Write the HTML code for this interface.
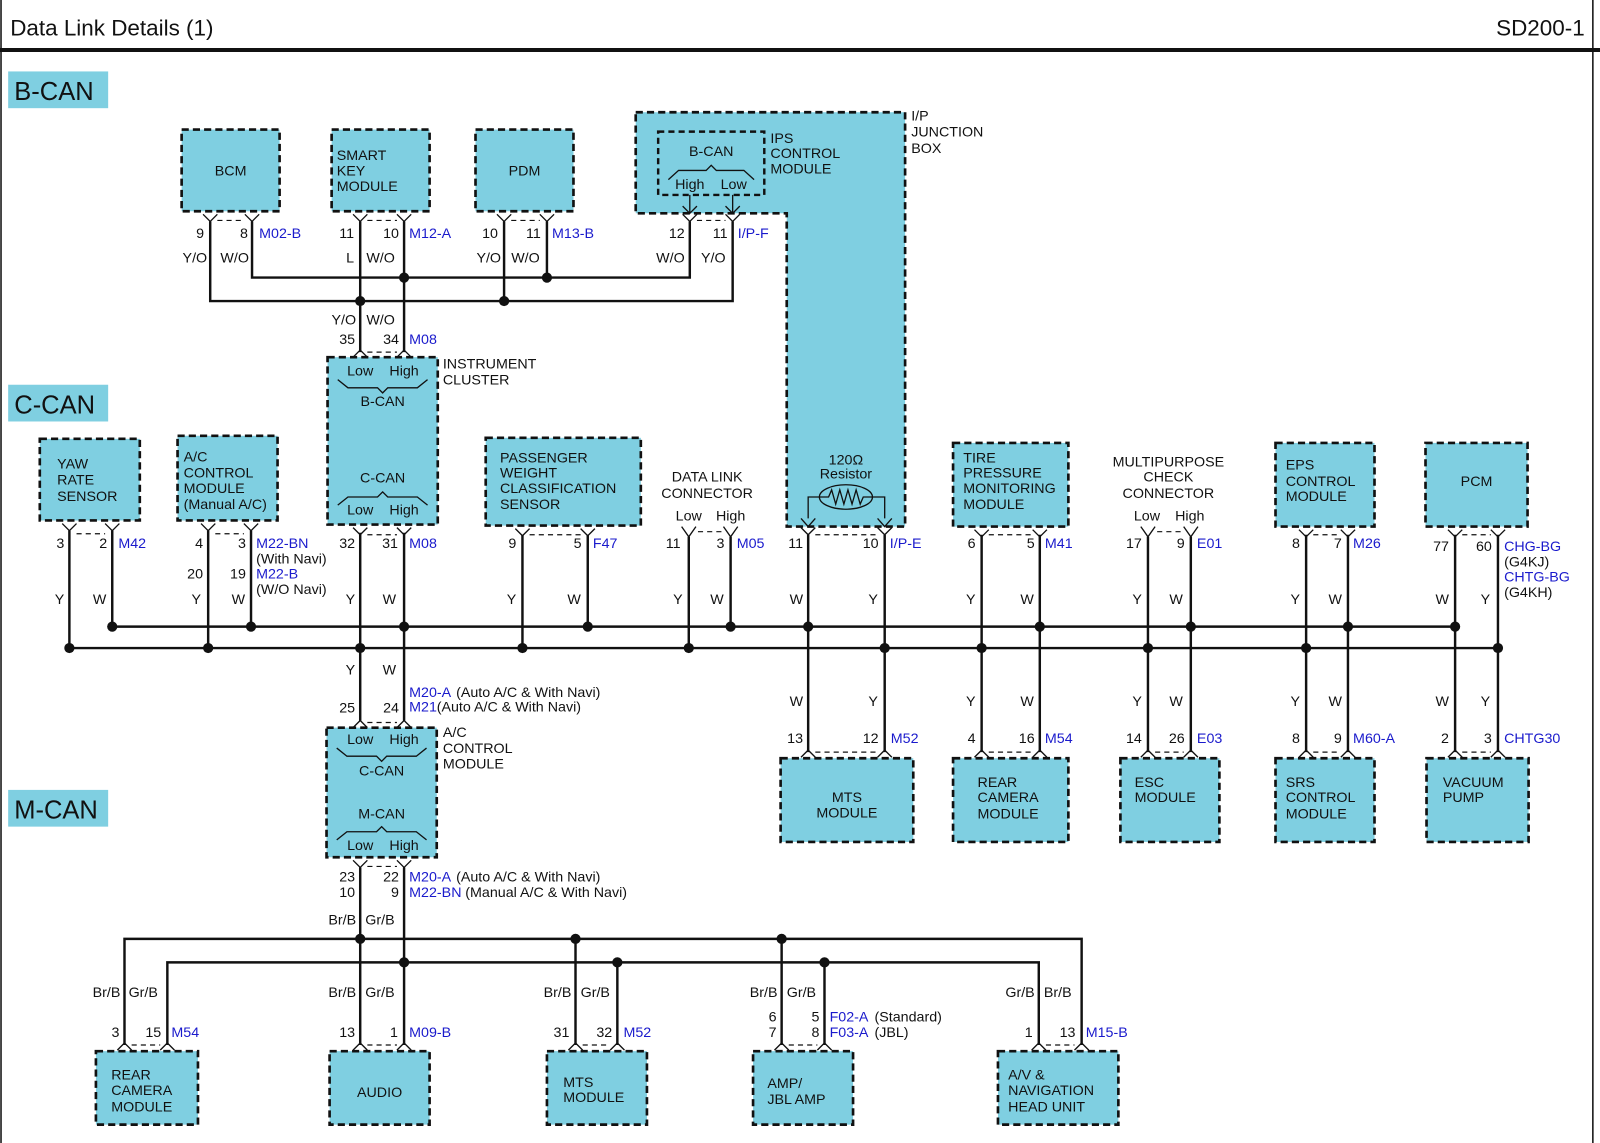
<!DOCTYPE html>
<html><head><meta charset="utf-8"><style>
html,body{margin:0;padding:0;background:#fff}
svg{display:block}
text{font-family:"Liberation Sans",Arial,sans-serif;font-size:14px;fill:#111}
.b{fill:#1a1acc}
.bx{fill:#7fcfe1;stroke:#111;stroke-width:2.6;stroke-dasharray:7 4}
.w{stroke:#111;stroke-width:2.4;fill:none}
.t{stroke:#111;stroke-width:1.3;fill:none}
.d{stroke:#111;stroke-width:1.2;stroke-dasharray:5 4;fill:none}
.c{text-anchor:middle}
.e{text-anchor:end}
.tag{fill:#7fcfe1}
</style></head><body>
<svg width="1600" height="1143" viewBox="0 0 1568 1120" preserveAspectRatio="none">
<defs>
<path id="up" class="t" d="M-7 -1 L0 -8 L7 -1"/>
<path id="dn" class="t" d="M-7 1 L0 8 L7 1"/>
</defs>
<text x="10" y="35" style="font-size:22px">Data Link Details (1)</text>
<text x="1553" y="35" class="e" style="font-size:22px">SD200-1</text>
<line x1="0" y1="49" x2="1568" y2="49" stroke="#111" stroke-width="4"/>
<line x1="1561" y1="0" x2="1561" y2="1120" stroke="#111" stroke-width="1.5"/>
<line x1="1" y1="0" x2="1" y2="1120" stroke="#111" stroke-width="1.5"/>
<rect x="8" y="70" width="98" height="36" class="tag"/><text x="14" y="98" style="font-size:25px">B-CAN</text>
<rect x="8" y="377" width="98" height="36" class="tag"/><text x="14" y="405" style="font-size:25px">C-CAN</text>
<rect x="8" y="774" width="98" height="36" class="tag"/><text x="14" y="802" style="font-size:25px">M-CAN</text>

<rect x="178" y="127" width="96" height="80" class="bx"/><text x="226" y="172" class="c">BCM</text>
<rect x="325" y="127" width="96" height="80" class="bx"/><text x="330" y="157">SMART</text><text x="330" y="172">KEY</text><text x="330" y="187">MODULE</text>
<rect x="466" y="127" width="96" height="80" class="bx"/><text x="514" y="172" class="c">PDM</text>
<path d="M623 110 H887 V516 H771 V209 H623 Z" class="bx"/>
<rect x="645" y="129" width="104" height="62" class="d" style="stroke-width:2.4;stroke-dasharray:6 4"/>
<text x="697" y="153" class="c">B-CAN</text>
<path class="t" d="M655 176 L665 167 H692 L697 162 L702 167 H729 L739 176"/>
<text x="676" y="185" class="c">High</text><text x="719" y="185" class="c">Low</text>
<text x="755" y="140">IPS</text><text x="755" y="155">CONTROL</text><text x="755" y="170">MODULE</text>
<text x="893" y="118">I/P</text><text x="893" y="134">JUNCTION</text><text x="893" y="150">BOX</text>
<path class="t" d="M669 202 L676 209 L683 202 M676 191 V209 M711 202 L718 209 L725 202 M718 191 V209"/>

<path class="w" d="M206 217 V295 H718 V217 M247 217 V272 H676 V217 M353 217 V345 M396 217 V345 M494 217 V295 M536 217 V272"/>
<g><use href="#dn" x="206" y="209"/><use href="#dn" x="247" y="209"/><use href="#dn" x="353" y="209"/><use href="#dn" x="396" y="209"/><use href="#dn" x="494" y="209"/><use href="#dn" x="536" y="209"/><use href="#dn" x="676" y="209"/><use href="#dn" x="718" y="209"/></g>
<path class="d" d="M213 216 H240 M360 216 H389 M501 216 H529 M683 216 H711"/>
<g fill="#111"><circle cx="353" cy="295" r="5"/><circle cx="396" cy="272" r="5"/><circle cx="494" cy="295" r="5"/><circle cx="536" cy="272" r="5"/></g>
<text x="200" y="233" class="e">9</text><text x="243" y="233" class="e">8</text><text x="254" y="233" class="b">M02-B</text>
<text x="203" y="257" class="e">Y/O</text><text x="216" y="257">W/O</text>
<text x="347" y="233" class="e">11</text><text x="391" y="233" class="e">10</text><text x="401" y="233" class="b">M12-A</text>
<text x="347" y="257" class="e">L</text><text x="359" y="257">W/O</text>
<text x="488" y="233" class="e">10</text><text x="530" y="233" class="e">11</text><text x="541" y="233" class="b">M13-B</text>
<text x="491" y="257" class="e">Y/O</text><text x="501" y="257">W/O</text>
<text x="671" y="233" class="e">12</text><text x="713" y="233" class="e">11</text><text x="723" y="233" class="b">I/P-F</text>
<text x="671" y="257" class="e">W/O</text><text x="687" y="257">Y/O</text>
<text x="349" y="318" class="e">Y/O</text><text x="359" y="318">W/O</text>
<text x="348" y="337" class="e">35</text><text x="391" y="337" class="e">34</text><text x="401" y="337" class="b">M08</text>
<use href="#up" x="353" y="351"/><use href="#up" x="396" y="351"/><path class="d" d="M360 345 H389"/>

<rect x="321" y="350" width="108" height="164" class="bx"/>
<text x="353" y="368" class="c">Low</text><text x="396" y="368" class="c">High</text>
<path class="t" d="M331 372 L341 380 H370 L375 385 L380 380 H409 L419 372"/>
<text x="375" y="398" class="c">B-CAN</text>
<text x="375" y="473" class="c">C-CAN</text>
<path class="t" d="M331 495 L341 487 H370 L375 482 L380 487 H409 L419 495"/>
<text x="353" y="504" class="c">Low</text><text x="396" y="504" class="c">High</text>
<text x="434" y="361">INSTRUMENT</text><text x="434" y="377">CLUSTER</text>

<rect x="39" y="430" width="98" height="80" class="bx"/><text x="56" y="459">YAW</text><text x="56" y="475">RATE</text><text x="56" y="491">SENSOR</text>
<rect x="174" y="427" width="98" height="83" class="bx"/><text x="180" y="452">A/C</text><text x="180" y="468">CONTROL</text><text x="180" y="483">MODULE</text><text x="180" y="499">(Manual A/C)</text>
<rect x="476" y="429" width="152" height="86" class="bx"/><text x="490" y="453">PASSENGER</text><text x="490" y="468">WEIGHT</text><text x="490" y="483">CLASSIFICATION</text><text x="490" y="499">SENSOR</text>
<text x="693" y="472" class="c">DATA LINK</text><text x="693" y="488" class="c">CONNECTOR</text>
<text x="675" y="510" class="c">Low</text><text x="716" y="510" class="c">High</text>
<text x="829" y="455" class="c">120Ω</text><text x="829" y="469" class="c">Resistor</text>
<ellipse cx="829" cy="487" rx="26" ry="12" class="t"/>
<path class="t" d="M792 508 V487 H812 L815 480 L819 494 L823 480 L827 494 L831 480 L835 494 L839 480 L843 494 L846 487 H867 V508 M785 508 L792 516 L799 508 M860 508 L867 516 L874 508"/>
<rect x="934" y="434" width="113" height="82" class="bx"/><text x="944" y="453">TIRE</text><text x="944" y="468">PRESSURE</text><text x="944" y="483">MONITORING</text><text x="944" y="499">MODULE</text>
<text x="1145" y="457" class="c">MULTIPURPOSE</text><text x="1145" y="472" class="c">CHECK</text><text x="1145" y="488" class="c">CONNECTOR</text>
<text x="1124" y="510" class="c">Low</text><text x="1166" y="510" class="c">High</text>
<rect x="1250" y="434" width="97" height="82" class="bx"/><text x="1260" y="460">EPS</text><text x="1260" y="476">CONTROL</text><text x="1260" y="491">MODULE</text>
<rect x="1397" y="434" width="100" height="82" class="bx"/><text x="1447" y="476" class="c">PCM</text>

<path class="w" d="M110 614 H1426 M68 635 H1468"/>
<path class="w" d="M68 520 V635 M110 520 V614 M204 520 V635 M246 520 V614 M353 522 V706 M396 522 V706 M512 524 V635 M576 524 V614 M675 526 V635 M716 526 V614 M792 524 V737 M867 524 V737 M962 524 V737 M1019 524 V737 M1125 526 V737 M1167 526 V737 M1280 524 V737 M1321 524 V737 M1426 524 V737 M1468 524 V737"/>
<g>
<use href="#dn" x="68" y="512"/><use href="#dn" x="110" y="512"/><use href="#dn" x="204" y="512"/><use href="#dn" x="246" y="512"/>
<use href="#dn" x="353" y="516"/><use href="#dn" x="396" y="516"/><use href="#dn" x="512" y="517"/><use href="#dn" x="576" y="517"/>
<use href="#dn" x="962" y="518"/><use href="#dn" x="1019" y="518"/><use href="#dn" x="1280" y="518"/><use href="#dn" x="1321" y="518"/><use href="#dn" x="1426" y="518"/><use href="#dn" x="1468" y="518"/>
<use href="#dn" x="792" y="516"/><use href="#dn" x="867" y="516"/>
<use href="#up" x="792" y="743"/><use href="#up" x="867" y="743"/><use href="#up" x="962" y="743"/><use href="#up" x="1019" y="743"/><use href="#up" x="1125" y="743"/><use href="#up" x="1167" y="743"/><use href="#up" x="1280" y="743"/><use href="#up" x="1321" y="743"/><use href="#up" x="1426" y="743"/><use href="#up" x="1468" y="743"/>
<use href="#up" x="353" y="714"/><use href="#up" x="396" y="714"/>
</g>
<path class="t" d="M668 516 L675 526 L682 516 M709 516 L716 526 L723 516 M1118 516 L1125 526 L1132 516 M1160 516 L1167 526 L1174 516"/>
<path class="d" d="M684 521 H707 M1134 521 H1158 M75 523 H103 M211 523 H239 M360 524 H389 M519 524 H569 M799 524 H860 M969 524 H1012 M1287 524 H1314 M1433 524 H1461 M799 737 H860 M969 737 H1012 M1132 737 H1160 M1287 737 H1314 M1433 737 H1461 M360 708 H389"/>
<g fill="#111">
<circle cx="68" cy="635" r="5"/><circle cx="110" cy="614" r="5"/><circle cx="204" cy="635" r="5"/><circle cx="246" cy="614" r="5"/><circle cx="353" cy="635" r="5"/><circle cx="396" cy="614" r="5"/><circle cx="512" cy="635" r="5"/><circle cx="576" cy="614" r="5"/><circle cx="675" cy="635" r="5"/><circle cx="716" cy="614" r="5"/><circle cx="792" cy="614" r="5"/><circle cx="867" cy="635" r="5"/><circle cx="962" cy="635" r="5"/><circle cx="1019" cy="614" r="5"/><circle cx="1125" cy="635" r="5"/><circle cx="1167" cy="614" r="5"/><circle cx="1280" cy="635" r="5"/><circle cx="1321" cy="614" r="5"/><circle cx="1426" cy="614" r="5"/><circle cx="1468" cy="635" r="5"/>
</g>
<text x="63" y="537" class="e">3</text><text x="105" y="537" class="e">2</text><text x="116" y="537" class="b">M42</text>
<text x="63" y="592" class="e">Y</text><text x="91" y="592">W</text>
<text x="199" y="537" class="e">4</text><text x="241" y="537" class="e">3</text><text x="251" y="537" class="b">M22-BN</text><text x="251" y="552">(With Navi)</text>
<text x="199" y="567" class="e">20</text><text x="241" y="567" class="e">19</text><text x="251" y="567" class="b">M22-B</text><text x="251" y="582">(W/O Navi)</text>
<text x="197" y="592" class="e">Y</text><text x="227" y="592">W</text>
<text x="348" y="537" class="e">32</text><text x="390" y="537" class="e">31</text><text x="401" y="537" class="b">M08</text>
<text x="348" y="592" class="e">Y</text><text x="375" y="592">W</text>
<text x="506" y="537" class="e">9</text><text x="570" y="537" class="e">5</text><text x="581" y="537" class="b">F47</text>
<text x="506" y="592" class="e">Y</text><text x="556" y="592">W</text>
<text x="667" y="537" class="e">11</text><text x="710" y="537" class="e">3</text><text x="722" y="537" class="b">M05</text>
<text x="669" y="592" class="e">Y</text><text x="696" y="592">W</text>
<text x="787" y="537" class="e">11</text><text x="861" y="537" class="e">10</text><text x="872" y="537" class="b">I/P-E</text>
<text x="787" y="592" class="e">W</text><text x="851" y="592">Y</text>
<text x="956" y="537" class="e">6</text><text x="1014" y="537" class="e">5</text><text x="1024" y="537" class="b">M41</text>
<text x="956" y="592" class="e">Y</text><text x="1000" y="592">W</text>
<text x="1119" y="537" class="e">17</text><text x="1161" y="537" class="e">9</text><text x="1173" y="537" class="b">E01</text>
<text x="1119" y="592" class="e">Y</text><text x="1146" y="592">W</text>
<text x="1274" y="537" class="e">8</text><text x="1315" y="537" class="e">7</text><text x="1326" y="537" class="b">M26</text>
<text x="1274" y="592" class="e">Y</text><text x="1302" y="592">W</text>
<text x="1420" y="540" class="e">77</text><text x="1462" y="540" class="e">60</text><text x="1474" y="540" class="b">CHG-BG</text><text x="1474" y="555">(G4KJ)</text><text x="1474" y="570" class="b">CHTG-BG</text><text x="1474" y="585">(G4KH)</text>
<text x="1420" y="592" class="e">W</text><text x="1451" y="592">Y</text>
<text x="348" y="661" class="e">Y</text><text x="375" y="661">W</text>
<text x="401" y="683" class="b">M20-A</text><text x="447" y="683">(Auto A/C &amp; With Navi)</text>
<text x="401" y="697" class="b">M21</text><text x="428" y="697">(Auto A/C &amp; With Navi)</text>
<text x="348" y="698" class="e">25</text><text x="391" y="698" class="e">24</text>
<text x="787" y="692" class="e">W</text><text x="851" y="692">Y</text>
<text x="787" y="728" class="e">13</text><text x="861" y="728" class="e">12</text><text x="873" y="728" class="b">M52</text>
<text x="956" y="692" class="e">Y</text><text x="1000" y="692">W</text>
<text x="956" y="728" class="e">4</text><text x="1014" y="728" class="e">16</text><text x="1024" y="728" class="b">M54</text>
<text x="1119" y="692" class="e">Y</text><text x="1146" y="692">W</text>
<text x="1119" y="728" class="e">14</text><text x="1161" y="728" class="e">26</text><text x="1173" y="728" class="b">E03</text>
<text x="1274" y="692" class="e">Y</text><text x="1302" y="692">W</text>
<text x="1274" y="728" class="e">8</text><text x="1315" y="728" class="e">9</text><text x="1326" y="728" class="b">M60-A</text>
<text x="1420" y="692" class="e">W</text><text x="1451" y="692">Y</text>
<text x="1420" y="728" class="e">2</text><text x="1462" y="728" class="e">3</text><text x="1474" y="728" class="b">CHTG30</text>
<rect x="765" y="743" width="130" height="82" class="bx"/><text x="830" y="786" class="c">MTS</text><text x="830" y="801" class="c">MODULE</text>
<rect x="934" y="743" width="113" height="82" class="bx"/><text x="958" y="771">REAR</text><text x="958" y="786">CAMERA</text><text x="958" y="802">MODULE</text>
<rect x="1098" y="743" width="97" height="82" class="bx"/><text x="1112" y="771">ESC</text><text x="1112" y="786">MODULE</text>
<rect x="1250" y="743" width="97" height="82" class="bx"/><text x="1260" y="771">SRS</text><text x="1260" y="786">CONTROL</text><text x="1260" y="802">MODULE</text>
<rect x="1398" y="743" width="100" height="82" class="bx"/><text x="1414" y="771">VACUUM</text><text x="1414" y="786">PUMP</text>

<rect x="320" y="713" width="108" height="127" class="bx"/>
<text x="353" y="729" class="c">Low</text><text x="396" y="729" class="c">High</text>
<path class="t" d="M330 733 L340 741 H369 L374 746 L379 741 H408 L418 733"/>
<text x="374" y="760" class="c">C-CAN</text>
<text x="374" y="802" class="c">M-CAN</text>
<path class="t" d="M330 823 L340 815 H369 L374 810 L379 815 H408 L418 823"/>
<text x="353" y="833" class="c">Low</text><text x="396" y="833" class="c">High</text>
<text x="434" y="722">A/C</text><text x="434" y="738">CONTROL</text><text x="434" y="753">MODULE</text>

<use href="#dn" x="353" y="842"/><use href="#dn" x="396" y="842"/><path class="d" d="M360 849 H389"/>
<path class="w" d="M353 850 V1024 M396 850 V1024 M122 1024 V920 H1060 V1024 M164 1024 V943 H1018 V1024 M564 920 V1024 M605 943 V1024 M766 920 V1024 M808 943 V1024"/>
<g fill="#111"><circle cx="353" cy="920" r="5"/><circle cx="396" cy="943" r="5"/><circle cx="564" cy="920" r="5"/><circle cx="605" cy="943" r="5"/><circle cx="766" cy="920" r="5"/><circle cx="808" cy="943" r="5"/></g>
<g><use href="#up" x="122" y="1030"/><use href="#up" x="164" y="1030"/><use href="#up" x="353" y="1030"/><use href="#up" x="396" y="1030"/><use href="#up" x="564" y="1030"/><use href="#up" x="605" y="1030"/><use href="#up" x="766" y="1030"/><use href="#up" x="808" y="1030"/><use href="#up" x="1018" y="1030"/><use href="#up" x="1060" y="1030"/></g>
<path class="d" d="M129 1024 H157 M360 1024 H389 M571 1024 H598 M773 1024 H801 M1025 1024 H1053"/>
<text x="348" y="864" class="e">23</text><text x="391" y="864" class="e">22</text><text x="401" y="864" class="b">M20-A</text><text x="447" y="864">(Auto A/C &amp; With Navi)</text>
<text x="348" y="879" class="e">10</text><text x="391" y="879" class="e">9</text><text x="401" y="879" class="b">M22-BN</text><text x="456" y="879">(Manual A/C &amp; With Navi)</text>
<text x="349" y="906" class="e">Br/B</text><text x="358" y="906">Gr/B</text>
<text x="118" y="977" class="e">Br/B</text><text x="126" y="977">Gr/B</text>
<text x="349" y="977" class="e">Br/B</text><text x="358" y="977">Gr/B</text>
<text x="560" y="977" class="e">Br/B</text><text x="569" y="977">Gr/B</text>
<text x="762" y="977" class="e">Br/B</text><text x="771" y="977">Gr/B</text>
<text x="1014" y="977" class="e">Gr/B</text><text x="1023" y="977">Br/B</text>
<text x="117" y="1016" class="e">3</text><text x="158" y="1016" class="e">15</text><text x="168" y="1016" class="b">M54</text>
<text x="348" y="1016" class="e">13</text><text x="390" y="1016" class="e">1</text><text x="401" y="1016" class="b">M09-B</text>
<text x="558" y="1016" class="e">31</text><text x="600" y="1016" class="e">32</text><text x="611" y="1016" class="b">M52</text>
<text x="761" y="1001" class="e">6</text><text x="803" y="1001" class="e">5</text><text x="813" y="1001" class="b">F02-A</text><text x="857" y="1001">(Standard)</text>
<text x="761" y="1016" class="e">7</text><text x="803" y="1016" class="e">8</text><text x="813" y="1016" class="b">F03-A</text><text x="857" y="1016">(JBL)</text>
<text x="1012" y="1016" class="e">1</text><text x="1054" y="1016" class="e">13</text><text x="1064" y="1016" class="b">M15-B</text>
<rect x="94" y="1030" width="100" height="72" class="bx"/><text x="109" y="1058">REAR</text><text x="109" y="1073">CAMERA</text><text x="109" y="1089">MODULE</text>
<rect x="323" y="1030" width="98" height="72" class="bx"/><text x="372" y="1075" class="c">AUDIO</text>
<rect x="536" y="1030" width="98" height="72" class="bx"/><text x="552" y="1065">MTS</text><text x="552" y="1080">MODULE</text>
<rect x="738" y="1030" width="98" height="72" class="bx"/><text x="752" y="1066">AMP/</text><text x="752" y="1082">JBL AMP</text>
<rect x="978" y="1030" width="118" height="72" class="bx"/><text x="988" y="1058">A/V &amp;</text><text x="988" y="1073">NAVIGATION</text><text x="988" y="1089">HEAD UNIT</text>
</svg>
</body></html>
